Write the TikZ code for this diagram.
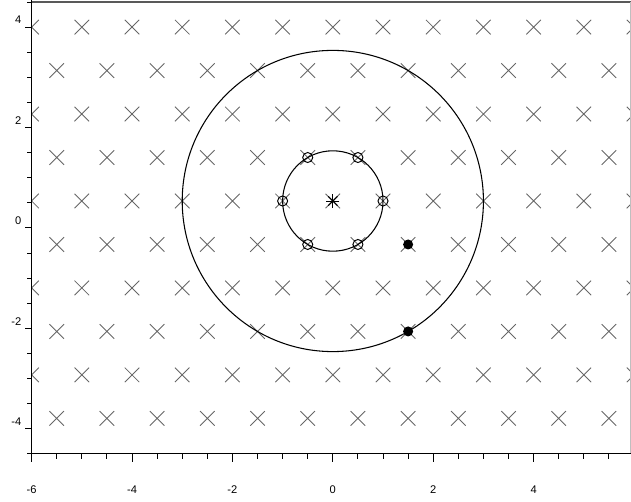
\documentclass[tikz,border=0pt]{standalone}
\usepackage{fontspec}
\setmainfont{Liberation Sans}
\usetikzlibrary{calc}
\begin{document}
\begin{tikzpicture}[x=1cm,y=1cm,
  crossmark/.style={draw=black!60,line width=0.5pt},
  axisline/.style={draw=black,line width=0.7pt},
  curve/.style={draw=black,line width=0.6pt},
  ticklab/.style={font=\fontsize{6.3}{7}\selectfont,inner sep=0pt},
  omark/.style={draw=black,line width=0.55pt}]
\useasboundingbox (-6.63,-5.46) rectangle (5.94,4.54);
\def\h{0.8660254}
\def\yc{0.5358984}
% lattice of crosses
\begin{scope}
\clip (-6,-4.5) rectangle (6,4.5);
\foreach \k in {0,...,9} {
  \pgfmathsetmacro\yy{4-\k*\h}
  \pgfmathsetmacro\off{mod(\k,2)*0.5}
  \foreach \i in {-6,...,6} {
    \pgfmathsetmacro\xx{\i+\off}
    \draw[crossmark,shift={(\xx,\yy)}] (-0.145,-0.145) -- (0.145,0.145) (-0.145,0.145) -- (0.145,-0.145);
  }
}
\end{scope}
% frame
\draw[draw=black!65,line width=0.6pt] (-6,4.5) -- (5.93,4.5);
\draw[draw=black!25,line width=0.5pt] (5.93,4.5) -- (5.93,-4.5);
\draw[axisline] (-6,4.55) -- (-6,-4.5) -- (6,-4.5);
% x ticks
\foreach \t in {-6,-5.5,...,6} {
  \draw[axisline,line width=0.5pt] (\t,-4.5) -- (\t,-4.6);
}
\foreach \t in {-6,-4,...,6} {
  \draw[axisline,line width=0.5pt] (\t,-4.5) -- (\t,-4.67);
  \node[ticklab] (xl\t) at (\t,-5.22) {\t};
}
% y ticks
\foreach \t in {-4.5,-4,...,4.5} {
  \draw[axisline,line width=0.5pt] (-6,\t) -- (-6.1,\t);
}
\foreach \t in {-4,-2,...,4} {
  \draw[axisline,line width=0.5pt] (-6,\t) -- (-6.13,\t);
  \node[ticklab,anchor=east] (yl\t) at (-6.2,\t+0.14) {\t};
}
% circles
\draw[curve] (0,\yc) circle (3);
\draw[curve] (0,\yc) circle (1);
% hexagon markers
\foreach \a in {0,60,...,300} {
  \draw[omark] ($(0,\yc)+(\a:1)$) circle (0.1);
}
% star at centre
\foreach \a in {0,45,...,135} {
  \draw[omark] ($(0,\yc)+(\a:0.13)$) -- ($(0,\yc)+(\a+180:0.13)$);
}
\fill (0,\yc) circle (0.03);
% filled markers
\fill (1.5,{4-5*\h}) circle (0.1);
\fill (1.5,{4-7*\h}) circle (0.1);
\end{tikzpicture}
\end{document}
